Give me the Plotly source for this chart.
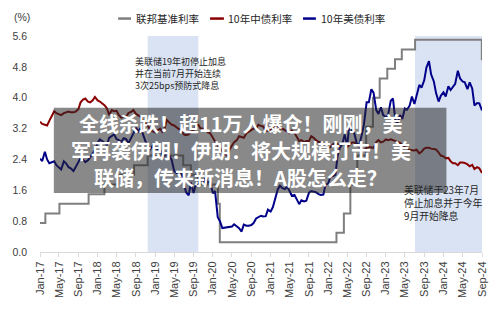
import pandas as pd
import plotly.graph_objects as go

# ---------------- data ----------------
series_names = ["联邦基准利率", "10年中债利率", "10年美债利率"]
series_colors = ["#7f7f7f", "#8b0000", "#00008b"]

# Fed funds target (upper bound) – change dates as placed on the chart's axis
fed_dates = ["2017-01-01", "2017-02-04", "2017-05-04", "2017-11-05", "2018-02-13",
             "2018-05-07", "2018-08-20", "2018-11-14", "2019-06-27", "2019-08-15",
             "2019-09-28", "2020-02-02", "2020-02-14", "2022-02-22", "2022-04-10",
             "2022-05-21", "2022-07-04", "2022-08-29", "2022-10-11", "2022-11-23",
             "2023-01-10", "2023-02-28", "2023-04-12", "2023-07-05", "2024-08-31",
             "2024-09-01"]
fed_rate = [0.75, 1.00, 1.25, 1.50, 1.75, 2.00, 2.25, 2.50, 2.25, 2.00,
            1.75, 1.25, 0.25, 0.50, 1.00, 1.75, 2.50, 3.25, 4.00, 4.50,
            4.75, 5.00, 5.25, 5.50, 5.00, 5.00]

# 10Y yields, sampled twice a month (1st and 15th) from Jan-17 to Sep-24
us_2017 = [2.42, 2.36, 2.60, 2.40, 2.30, 2.32, 2.35, 2.25, 2.20, 2.14, 2.35, 2.30,
           2.20, 2.17, 2.10, 2.22, 2.33, 2.44, 2.40, 2.33, 2.38, 2.46, 2.55, 2.64]
us_2018 = [2.83, 2.92, 2.87, 2.82, 2.78, 2.96, 3.00, 3.05, 2.93, 2.90, 2.86, 2.95,
           2.93, 2.82, 2.94, 3.07, 3.22, 3.12, 3.22, 3.06, 2.86, 2.77, 2.67, 2.75]
us_2019 = [2.70, 2.66, 2.64, 2.52, 2.50, 2.57, 2.50, 2.39, 2.10, 2.05, 2.04, 2.05,
           1.80, 1.55, 1.47, 1.80, 1.53, 1.75, 1.80, 1.82, 1.80, 1.92, 1.80, 1.83]
us_2020 = [1.52, 1.58, 0.90, 0.80, 0.62, 0.63, 0.63, 0.64, 0.66, 0.72, 0.67, 0.62,
           0.53, 0.71, 0.68, 0.68, 0.70, 0.75, 0.87, 0.90, 0.94, 0.92, 0.93, 1.10]
us_2021 = [1.05, 1.16, 1.44, 1.62, 1.72, 1.66, 1.63, 1.69, 1.58, 1.46, 1.48, 1.36,
           1.24, 1.34, 1.31, 1.33, 1.54, 1.58, 1.57, 1.55, 1.50, 1.48, 1.49, 1.74]
us_2022 = [1.78, 1.95, 1.97, 2.00, 2.48, 2.70, 2.81, 3.05, 2.75, 3.30, 3.13, 3.08,
           2.81, 2.76, 3.03, 3.30, 3.88, 3.88, 4.22, 4.13, 3.68, 3.58, 3.75, 3.55]
us_2023 = [3.50, 3.55, 3.92, 3.98, 3.45, 3.33, 3.55, 3.45, 3.72, 3.69, 3.80, 4.03,
           3.84, 4.05, 4.33, 4.26, 4.45, 4.78, 4.95, 4.60, 4.42, 4.12, 3.90, 4.05]
us_2024 = [4.14, 4.03, 4.30, 4.20, 4.30, 4.36, 4.70, 4.50, 4.42, 4.40, 4.22, 4.40,
           4.24, 3.80, 3.86, 3.85, 3.67]

cn_2017 = [3.38, 3.32, 3.30, 3.28, 3.40, 3.52, 3.65, 3.60, 3.58, 3.55, 3.60, 3.62,
           3.64, 3.62, 3.62, 3.64, 3.70, 3.88, 3.95, 3.98, 3.90, 3.88, 3.93, 4.02]
cn_2018 = [3.93, 3.90, 3.85, 3.80, 3.72, 3.55, 3.68, 3.65, 3.66, 3.55, 3.48, 3.52,
           3.50, 3.60, 3.63, 3.68, 3.58, 3.54, 3.50, 3.40, 3.32, 3.28, 3.15, 3.12]
cn_2019 = [3.10, 3.15, 3.20, 3.12, 3.20, 3.42, 3.36, 3.30, 3.28, 3.23, 3.18, 3.18,
           3.05, 3.03, 3.05, 3.12, 3.16, 3.28, 3.30, 3.20, 3.20, 3.18, 3.10, 3.08]
cn_2020 = [2.95, 2.88, 2.75, 2.70, 2.60, 2.55, 2.50, 2.65, 2.75, 2.85, 2.90, 3.00,
           2.98, 2.96, 3.08, 3.12, 3.15, 3.20, 3.20, 3.30, 3.27, 3.25, 3.15, 3.14]
cn_2021 = [3.18, 3.23, 3.28, 3.26, 3.20, 3.20, 3.17, 3.13, 3.08, 3.15, 3.09, 3.00,
           2.88, 2.90, 2.85, 2.88, 2.88, 3.00, 2.96, 2.90, 2.85, 2.85, 2.80, 2.78]
cn_2022 = [2.70, 2.72, 2.80, 2.82, 2.80, 2.77, 2.83, 2.78, 2.72, 2.78, 2.84, 2.84,
           2.76, 2.74, 2.64, 2.63, 2.70, 2.72, 2.70, 2.70, 2.85, 2.90, 2.84, 2.86]
cn_2023 = [2.92, 2.90, 2.92, 2.90, 2.88, 2.86, 2.83, 2.78, 2.72, 2.70, 2.65, 2.64,
           2.63, 2.65, 2.56, 2.60, 2.68, 2.70, 2.70, 2.68, 2.67, 2.66, 2.58, 2.50]
cn_2024 = [2.48, 2.43, 2.44, 2.35, 2.30, 2.30, 2.25, 2.32, 2.32, 2.31, 2.27, 2.22,
           2.26, 2.15, 2.20, 2.17, 2.05]

# shaded periods (Fed pause -> cuts)
shade_start = ["2018-11-14", "2023-07-05"]
shade_end = ["2019-10-01", "2024-09-01"]

note1_lines = ["美联储19年初停止加息", "并在当前7月开始连续", "3次25bps预防式降息"]
note2_lines = ["美联储于23年7月", "停止加息并于今年", "9月开始降息"]
banner_lines = ["全线杀跌！超11万人爆仓！刚刚，美",
                "军再袭伊朗！伊朗：将大规模打击！美",
                "联储，传来新消息！A股怎么走？"]

y_ticks = [0.0, 0.8, 1.6, 2.4, 3.2, 4.0, 4.8, 5.6]

# ---------------- build ----------------
yield_dates = pd.date_range("2017-01-01", "2024-09-01", freq="SMS")
us_yield = us_2017 + us_2018 + us_2019 + us_2020 + us_2021 + us_2022 + us_2023 + us_2024
cn_yield = cn_2017 + cn_2018 + cn_2019 + cn_2020 + cn_2021 + cn_2022 + cn_2023 + cn_2024

FONT = "Arial, 'Liberation Sans', 'Noto Sans CJK SC', sans-serif"
CJK = "'Noto Sans CJK SC', Arial, sans-serif"

fig = go.Figure()
fig.add_trace(go.Scatter(x=fed_dates, y=fed_rate, mode="lines", line_shape="hv",
                         name=series_names[0], line=dict(color=series_colors[0], width=2)))
fig.add_trace(go.Scatter(x=yield_dates, y=cn_yield, mode="lines",
                         name=series_names[1], line=dict(color=series_colors[1], width=2)))
fig.add_trace(go.Scatter(x=yield_dates, y=us_yield, mode="lines",
                         name=series_names[2], line=dict(color=series_colors[2], width=2)))

shapes = []
for s, e in zip(shade_start, shade_end):
    shapes.append(dict(type="rect", xref="x", yref="paper", x0=s, x1=e, y0=0, y1=1,
                       fillcolor="#dae3f3", line=dict(width=0), layer="below"))

# plot area in pixels: x 36..483, y 36..259
def px(xp):
    return (xp - 36) / 447.0

def py(yp):
    return (259 - yp) / 223.0

annotations = []
# custom legend
leg_keys = [(115, 128, 131), (208, 222, 224), (302, 315, 318)]
for (k0, k1, tx), name, col in zip(leg_keys, series_names, series_colors):
    shapes.append(dict(type="line", xref="paper", yref="paper", x0=px(k0), x1=px(k1),
                       y0=py(18), y1=py(18), line=dict(color=col, width=2.5)))
    annotations.append(dict(xref="paper", yref="paper", x=px(tx), y=py(18), text=name,
                            showarrow=False, xanchor="left", yanchor="middle",
                            font=dict(family=CJK, size=10.5, color="#262626")))

annotations.append(dict(xref="paper", yref="paper", x=px(8), y=py(16), text="(%)",
                        showarrow=False, xanchor="left", yanchor="middle",
                        font=dict(family=FONT, size=10.5, color="#404040")))

for t, yy in zip(note1_lines, [62.0, 74.8, 87.6]):
    annotations.append(dict(xref="paper", yref="paper", x=px(130), y=py(yy), text=t,
                            showarrow=False, xanchor="left", yanchor="middle",
                            font=dict(family=CJK, size=9, color="#262626")))
for t, yy in zip(note2_lines, [195, 208.5, 222]):
    annotations.append(dict(xref="paper", yref="paper", x=px(402), y=py(yy), text=t,
                            showarrow=False, xanchor="left", yanchor="middle",
                            font=dict(family=CJK, size=9.8, color="#262626")))

# headline banner overlay
shapes.append(dict(type="rect", xref="paper", yref="paper", x0=px(50), x1=px(447),
                   y0=py(198), y1=py(110), fillcolor="rgba(40,40,40,0.55)",
                   line=dict(width=0), layer="above"))
for t, yy in zip(banner_lines, [126.5, 154.5, 182.5]):
    annotations.append(dict(xref="paper", yref="paper", x=px(239), y=py(yy),
                            text="<b>" + t + "</b>",
                            showarrow=False, xanchor="center", yanchor="middle",
                            font=dict(family=CJK, size=20, color="white")))

fig.update_layout(
    width=500, height=310,
    margin=dict(l=36, r=17, t=36, b=51),
    paper_bgcolor="white", plot_bgcolor="white",
    showlegend=False,
    shapes=shapes, annotations=annotations,
    font=dict(family=FONT, size=10.5, color="#404040"),
)
fig.update_xaxes(type="date", range=["2017-01-01", "2024-09-01"],
                 tick0="2017-01-01", dtick="M4", tickformat="%b-%y", tickangle=-90,
                 ticks="outside", ticklen=4, tickcolor="#d9d9d9",
                 showline=True, linecolor="#d9d9d9", linewidth=1,
                 showgrid=False, zeroline=False,
                 tickfont=dict(family=FONT, size=11, color="#404040"))
fig.update_yaxes(range=[0, 5.6], tickvals=y_ticks, tickformat=".1f",
                 showgrid=False, zeroline=False, showline=False, ticks="",
                 ticklabelstandoff=12,
                 tickfont=dict(family=FONT, size=10.5, color="#404040"))

fig.write_html("out.html")
